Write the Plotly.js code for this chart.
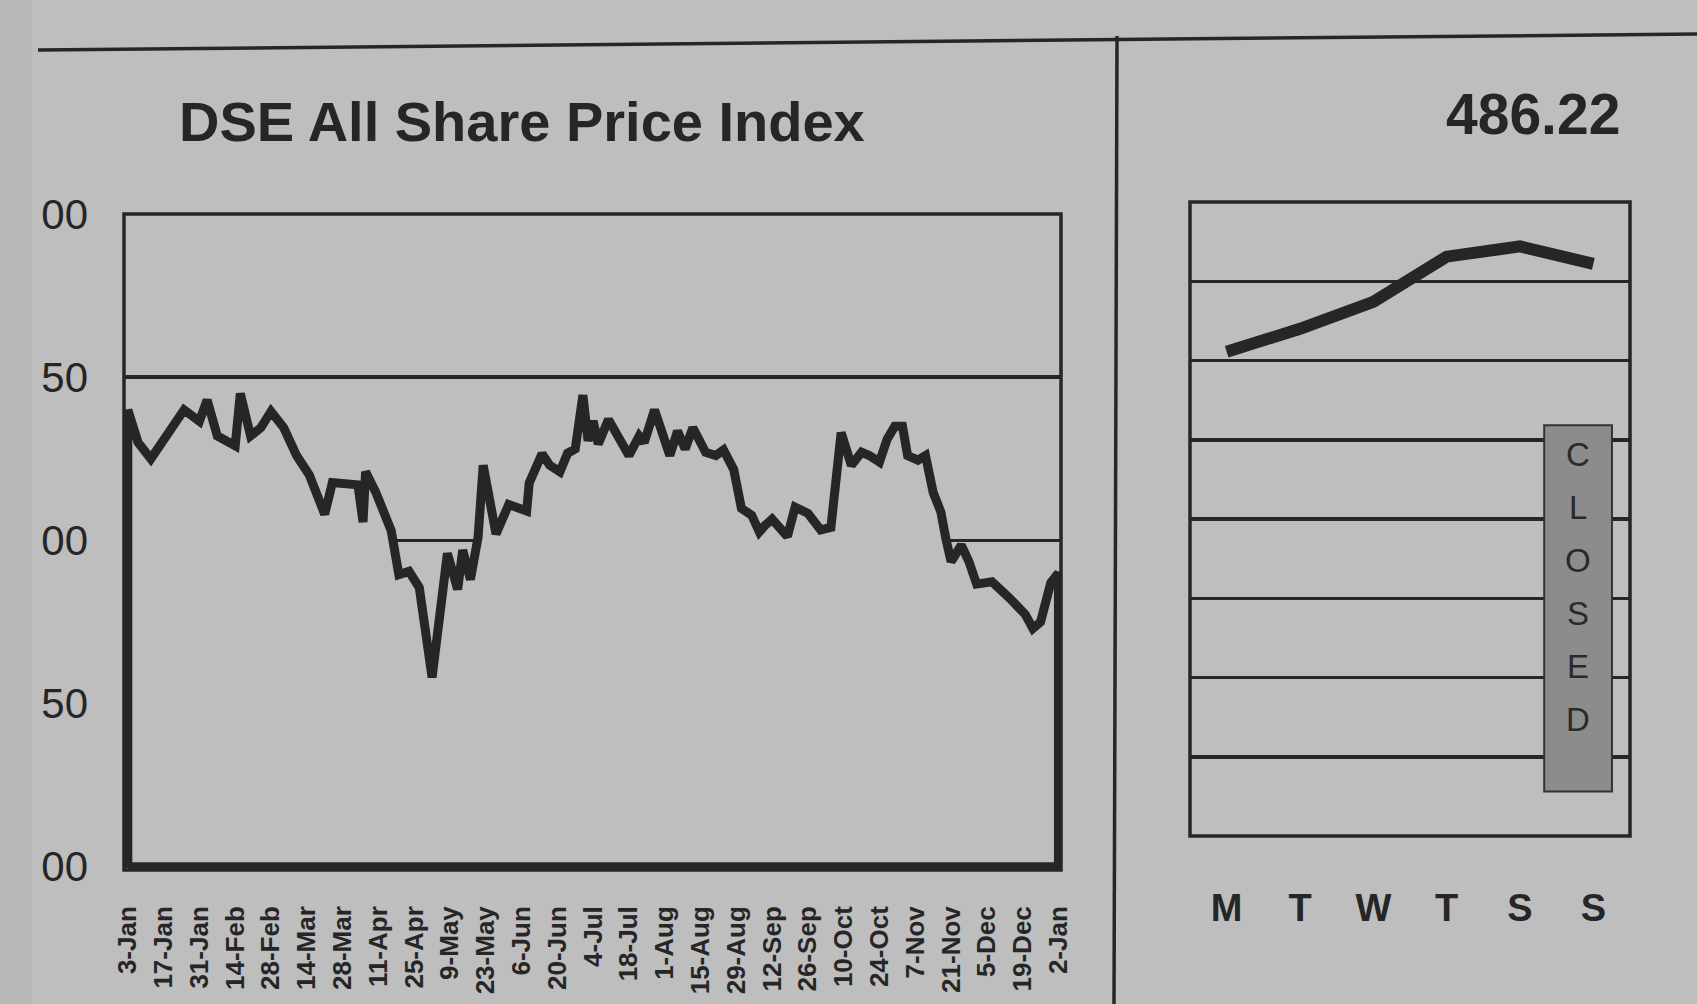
<!DOCTYPE html>
<html><head><meta charset="utf-8">
<script src="https://cdn.plot.ly/plotly-3.0.1.min.js"></script>
<style>html,body{margin:0;padding:0;background:#bebebe;overflow:hidden}#chart{width:1697px;height:1004px}</style>
</head><body><div id="chart"></div>
<script>
// ---- data ----
const chartTitle = 'DSE All Share Price Index';
const latestValue = '486.22';
// days counted from 3-Jan
const dayOffsets = [0,4,9,22,28,31,35,42,44,48,52,56,61,66,71,77,80,90,92,93,97,103,106,110,114,119,123,125,129,131,134,137,139,144,149,156,157,162,165,169,172,175,178,180,182,184,188,192,196,200,202,206,209,212,215,218,221,226,230,233,237,240,244,247,249,252,258,261,266,271,275,277,279,283,287,290,294,297,300,303,305,309,312,315,318,320,322,326,329,332,338,345,351,354,357,361,364];
const indexValues = [540,530,525,540,536.5,543,532,529,545,532,534.5,539.5,534.5,526,520,508,517.7,517,505.6,521,514.7,503,489.5,490.5,485.5,458,481,496,485,497,488,501,523,502,511,509,517.6,526.5,523,521,526.7,528,544.5,530.5,536.6,529.5,537,531,526,532,530,540,532,526,533.5,528,534.5,527,526,527.7,521.7,509.8,507.7,502.6,504.4,506.5,501.2,510.2,508.3,503.2,504,518,533,523,527,526,524,531,535,535,526,524.6,526,514.7,508.7,500.4,493.5,498.5,493.5,486.6,487.3,482.2,477.3,473,475,487,490];
const tickLabels = ['3-Jan','17-Jan','31-Jan','14-Feb','28-Feb','14-Mar','28-Mar','11-Apr','25-Apr','9-May','23-May','6-Jun','20-Jun','4-Jul','18-Jul','1-Aug','15-Aug','29-Aug','12-Sep','26-Sep','10-Oct','24-Oct','7-Nov','21-Nov','5-Dec','19-Dec','2-Jan'];
const tickStepDays = 14;
const yTickValues = [400,450,500,550,600];
const yTickLabels = ['00','50','00','50','00'];
const weekDays = ['M','T','W','T','S','S'];
const weekValues = [485.11,485.40,485.74,486.31,486.44,486.22];
const closedText = 'CLOSED';

// ---- drawing ----
const BG = '#bebebe', INK = '#262626';
const W = 1697, H = 1004;
const px = v => v / W, py = v => 1 - v / H;

const base = yTickValues[0];
const areaX = [dayOffsets[0]].concat(dayOffsets, [dayOffsets[dayOffsets.length-1], dayOffsets[0]]);
const areaY = [base].concat(indexValues, [base, base]);
const tickDays = tickLabels.map((_, i) => i * tickStepDays);
const weekIdx = weekDays.map((_, i) => i);

const traces = [
  {type:'scatter', mode:'lines', x:areaX, y:areaY, xaxis:'x', yaxis:'y',
   fill:'toself', fillcolor:BG, line:{color:INK, width:9, shape:'linear'}, hoverinfo:'skip'},
  {type:'scatter', mode:'lines', x:weekIdx, y:weekValues, xaxis:'x2', yaxis:'y2',
   line:{color:INK, width:12}, hoverinfo:'skip'}
];

const shapes = [
  {type:'rect', xref:'paper', yref:'paper', x0:0, x1:px(32), y0:0, y1:1, fillcolor:'#b8b8b8', line:{width:0}, layer:'below'},
  {type:'line', xref:'paper', yref:'paper', x0:px(38), y0:py(50), x1:1, y1:py(34), line:{color:INK, width:3.5}},
  {type:'line', xref:'paper', yref:'paper', x0:px(1117), y0:py(36), x1:px(1114), y1:0, line:{color:INK, width:3.5}},
  {type:'rect', xref:'x domain', yref:'y domain', x0:0, x1:1, y0:0, y1:1, line:{color:INK, width:3.5}, layer:'above'},
  {type:'rect', xref:'x2 domain', yref:'y2 domain', x0:0, x1:1, y0:0, y1:1, line:{color:INK, width:3.5}, layer:'above'},
  {type:'rect', xref:'x2 domain', yref:'y2 domain', x0:0.805, x1:0.959, y0:0.070, y1:0.648,
   fillcolor:'#8c8c8c', line:{color:'#333', width:2}, layer:'above'}
];

const annotations = [
  {xref:'paper', yref:'paper', x:px(522), y:py(121), xanchor:'center', yanchor:'middle', showarrow:false,
   text:chartTitle, font:{size:56, weight:'bold', color:INK}},
  {xref:'paper', yref:'paper', x:px(1622), y:py(114), xanchor:'right', yanchor:'middle', showarrow:false,
   text:latestValue, font:{size:57, weight:'bold', color:INK}}
];
closedText.split('').forEach((ch, i) => {
  annotations.push({xref:'paper', yref:'paper', x:px(1578), y:py(454 + i*53), xanchor:'center', yanchor:'middle',
    showarrow:false, text:ch, font:{size:33, color:'#2a2a2a'}});
});

const layout = {
  width:W, height:H, margin:{l:0, r:0, t:0, b:0},
  paper_bgcolor:BG, plot_bgcolor:BG, showlegend:false,
  font:{family:'"Liberation Sans", Arial, sans-serif', color:INK},
  xaxis:{domain:[px(124), px(1061)], range:[-1.5, 365], tickvals:tickDays, ticktext:tickLabels,
    tickangle:-90, showgrid:false, zeroline:false, showline:false, ticks:'',
    tickfont:{family:'"Liberation Sans Narrow", "Liberation Sans", Arial, sans-serif', size:26, weight:'bold', color:INK},
    ticklabelstandoff:30, fixedrange:true},
  yaxis:{domain:[py(870), py(214)], range:[399, 600], tickvals:yTickValues, ticktext:yTickLabels,
    showgrid:true, gridcolor:INK, gridwidth:3.5, zeroline:false, showline:false, ticks:'',
    tickfont:{size:42, color:INK}, ticklabelstandoff:35, fixedrange:true},
  xaxis2:{anchor:'y2', domain:[px(1190), px(1630)], range:[-0.5, 5.5], tickvals:weekIdx, ticktext:weekDays,
    showgrid:false, zeroline:false, showline:false, ticks:'',
    tickfont:{size:38, weight:'bold', color:INK}, ticklabelstandoff:46, fixedrange:true},
  yaxis2:{anchor:'x2', domain:[py(836), py(202)], range:[479, 487], tick0:479, dtick:1,
    showticklabels:false, showgrid:true, gridcolor:INK, gridwidth:3.5, zeroline:false, showline:false, ticks:'', fixedrange:true},
  shapes:shapes, annotations:annotations
};

Plotly.newPlot('chart', traces, layout, {staticPlot:true, displayModeBar:false});
</script></body></html>
